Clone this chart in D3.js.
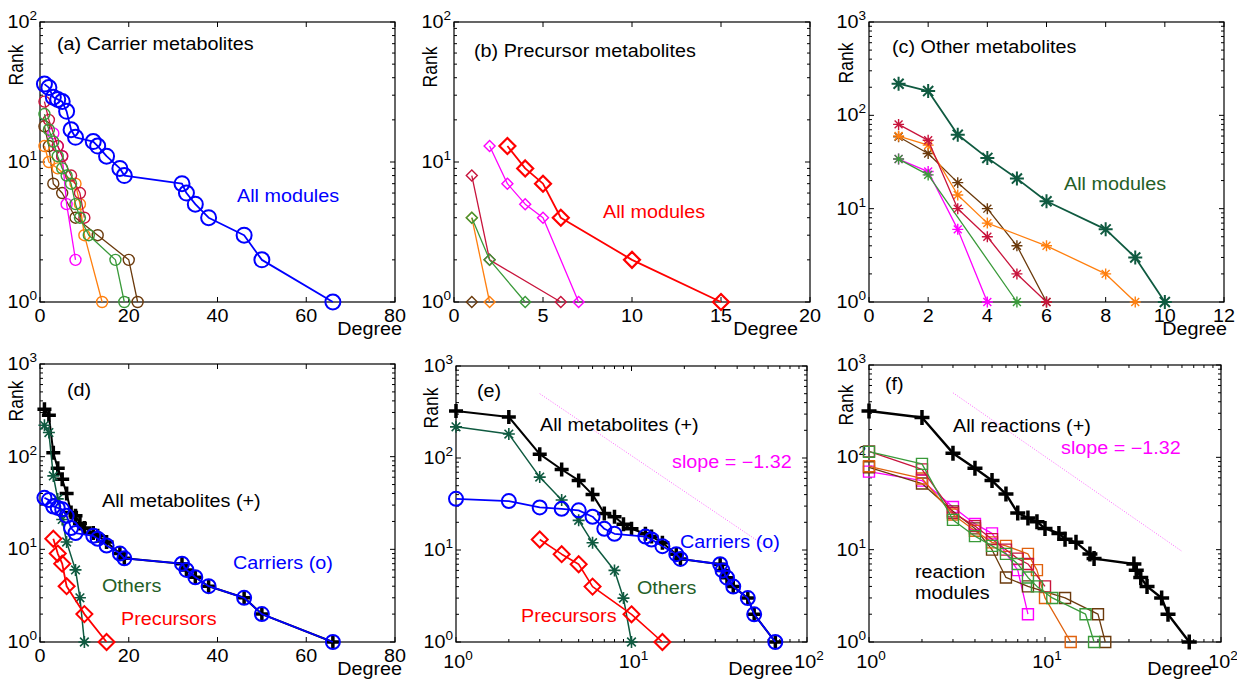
<!DOCTYPE html>
<html>
<head>
<meta charset="utf-8">
<script src="https://cdn.jsdelivr.net/npm/d3@7"></script>
<style>
body { margin: 0; background: #fff; }
svg { display: block; }
text { font-family: "Liberation Sans", Arial, Helvetica, sans-serif; }
</style>
</head>
<body>
<svg id="chart" width="1237" height="679"></svg>
<script>
// ---- data (degree, rank) ----
// (a) carrier metabolites
var carrierDeg  = [1,2,3,4,5,6,7,8,12,13,15,18,19,32,33,35,38,46,50,66];
var carrierRank = [36,34,29,28,27,23,17,15,14,13,11,9,8,7,6,5,4,3,2,1];
var aCrimsonDeg = [1,2,4,5,7,9,10],            aCrimsonRank = [27,20,13,11,8,6,4];
var aGreenDeg   = [1,2,3,4,5,6,7,8,9,11,17,19], aGreenRank   = [22,17,14,11,9,8,7,5,4,3,2,1];
var aBrownDeg   = [1,2,3,5,8,13,20,22],          aBrownRank   = [18,13,7,6,4,3,2,1];
var aOrangeDeg  = [1,2,4,8,9,10,14],             aOrangeRank  = [13,10,9,7,5,3,1];
var aMagentaDeg = [3,4,5,6,8],                   aMagentaRank = [16,13,11,5,2];

// (b) precursor metabolites
var precDeg  = [3,4,5,6,10,15];
var precRank = [13,9,7,4,2,1];
var bMagentaDeg = [2,3,4,5,7], bMagentaRank = [13,7,5,4,1];
var bCrimsonDeg = [1,2,6],     bCrimsonRank = [8,2,1];
var bGreenDeg   = [1,2,4],     bGreenRank   = [4,2,1];
var bOrangeDeg  = [1,2],       bOrangeRank  = [4,1];
var bBrownDeg   = [1],         bBrownRank   = [1];

// (c) other metabolites
var otherDeg  = [1,2,3,4,5,6,8,9,10];
var otherRank = [218,182,62,35,21,12,6,3,1];
var cCrimsonDeg = [1,2,3,4,5,6],   cCrimsonRank = [80,54,10,5,2,1];
var cOrangeDeg  = [1,2,3,4,6,8,9], cOrangeRank  = [60,48,14,7,4,2,1];
var cBrownDeg   = [1,2,3,4,5,6],   cBrownRank   = [59,39,19,10,4,1];
var cMagentaDeg = [1,2,3,4],       cMagentaRank = [34,25,6,1];
var cGreenDeg   = [1,2,5],         cGreenRank   = [34,23,1];

// (d),(e) all metabolites
var allMetDeg  = [1,2,3,4,5,6,7,8,9,10,12,13,15,18,19,32,33,35,38,46,50,66];
var allMetRank = [324,279,110,75,57,40,25,23,19,17,15,14,12,9,8,7,6,5,4,3,2,1];

// (f) all reactions and reaction modules
var allRxnDeg  = [1,2,3,4,5,6,7,8,9,10,12,13,15,18,19,32,33,35,38,46,50,66];
var allRxnRank = [318,270,111,76,56,40,25,22,20,17,15,13,12,9,8,7,6,5,4,3,2,1];
var fCrimsonDeg = [1,2,3,4,5,6,7,8,10],           fCrimsonRank = [116,74,25,18,13,10,8,7,4];
var fGreenDeg   = [1,2,3,4,5,6,7,8,9,11,17,19],   fGreenRank   = [115,85,21,14,11,9,7,5,4,3,2,1];
var fOrangeDeg  = [1,2,3,4,5,6,8,9,10,14],        fOrangeRank  = [80,59,24,16,12,11,9,6,3,1];
var fBrownDeg   = [1,2,3,4,5,6,8,13,20,22],       fBrownRank   = [78,52,26,17,10,5,4,3,2,1];
var fMagentaDeg = [1,2,3,4,5,7,8],                fMagentaRank = [70,56,29,19,15,6,2];

// reference slope line (-1.32)
var slopeDegE = [3,64], slopeRankE = [500,9.7];
var slopeDegF = [3,60], slopeRankF = [500,9.6];

// tick values
var ticks80 = [0,20,40,60,80];
var ticks20 = [0,5,10,15,20];
var ticks12 = [0,2,4,6,8,10,12];

var COL = {
  blue: '#0000ff', red: '#ff0000', others: '#0f5a40', othersText: '#245e26',
  crimson: '#c8143c', green: '#3a9a3a', brown: '#6b3a0c', magenta: '#ff00ff',
  orange: '#ff7f0e', orangeDark: '#e0620e', black: '#000000'
};

var SX = 1.13;   // figure text looks horizontally stretched
var FS = 17.5;

var svg = d3.select('#chart');

function zip(a, b) { return a.map(function(v, i) { return [v, b[i]]; }); }

function txt(g, x, y, str, color, anchor, size) {
  return g.append('text')
    .attr('transform', 'translate(' + x + ',' + y + ') scale(' + SX + ',1)')
    .attr('font-size', size || FS)
    .attr('fill', color || '#000')
    .attr('text-anchor', anchor || 'start')
    .text(str);
}

function powLabel(g, x, y, exp, anchor) {
  var t = g.append('text')
    .attr('transform', 'translate(' + x + ',' + y + ') scale(' + SX + ',1)')
    .attr('font-size', FS)
    .attr('text-anchor', anchor);
  t.append('tspan').text('10');
  t.append('tspan').attr('font-size', 12).attr('dy', -8).text(exp);
}

function marker(g, type, cx, cy, s, color, w) {
  var k = s * 0.72;
  if (type === 'o') {
    g.append('circle').attr('cx', cx).attr('cy', cy).attr('r', s)
      .attr('fill', 'none').attr('stroke', color).attr('stroke-width', w);
    return;
  }
  var p;
  if (type === 'd') p = 'M' + cx + ',' + (cy - s) + 'L' + (cx + s) + ',' + cy + 'L' + cx + ',' + (cy + s) + 'L' + (cx - s) + ',' + cy + 'Z';
  if (type === 's') p = 'M' + (cx - s) + ',' + (cy - s) + 'H' + (cx + s) + 'V' + (cy + s) + 'H' + (cx - s) + 'Z';
  if (type === '+') p = 'M' + (cx - s) + ',' + cy + 'H' + (cx + s) + 'M' + cx + ',' + (cy - s) + 'V' + (cy + s);
  if (type === '*') p = 'M' + (cx - s) + ',' + cy + 'H' + (cx + s) + 'M' + cx + ',' + (cy - s) + 'V' + (cy + s) +
    'M' + (cx - k) + ',' + (cy - k) + 'L' + (cx + k) + ',' + (cy + k) + 'M' + (cx - k) + ',' + (cy + k) + 'L' + (cx + k) + ',' + (cy - k);
  g.append('path').attr('d', p).attr('fill', 'none').attr('stroke', color).attr('stroke-width', w);
}

function series(P, degs, ranks, color, type, size, lw, mw) {
  var pts = zip(degs, ranks);
  var line = d3.line().x(function(d) { return P.x(d[0]); }).y(function(d) { return P.y(d[1]); });
  P.g.append('path').datum(pts).attr('d', line)
    .attr('fill', 'none').attr('stroke', color).attr('stroke-width', lw).attr('stroke-linejoin', 'round');
  pts.forEach(function(d) { marker(P.g, type, P.x(d[0]), P.y(d[1]), size, color, mw); });
}

function makePanel(o) {
  var g = svg.append('g');
  var x = o.xlog ? d3.scaleLog().domain(o.xdom).range([o.x0, o.x1])
                 : d3.scaleLinear().domain(o.xdom).range([o.x0, o.x1]);
  var y = d3.scaleLog().domain(o.ydom).range([o.y1, o.y0]);
  var ax = g.append('g').attr('stroke', '#000').attr('stroke-width', 1);
  var MAJ = 5, MIN = 3;

  // y ticks (log) on both sides
  var e0 = Math.round(Math.log10(o.ydom[0])), e1 = Math.round(Math.log10(o.ydom[1]));
  for (var e = e0; e <= e1; e++) {
    var v = Math.pow(10, e), yy = y(v);
    ax.append('line').attr('x1', o.x0).attr('x2', o.x0 + MAJ).attr('y1', yy).attr('y2', yy);
    ax.append('line').attr('x1', o.x1).attr('x2', o.x1 - MAJ).attr('y1', yy).attr('y2', yy);
    powLabel(g, o.x0 - 3, yy + 6, String(e), 'end');
    if (e < e1) {
      for (var m = 2; m <= 9; m++) {
        var ym = y(m * v);
        ax.append('line').attr('x1', o.x0).attr('x2', o.x0 + MIN).attr('y1', ym).attr('y2', ym);
        ax.append('line').attr('x1', o.x1).attr('x2', o.x1 - MIN).attr('y1', ym).attr('y2', ym);
      }
    }
  }
  // x ticks
  if (o.xlog) {
    var f0 = Math.round(Math.log10(o.xdom[0])), f1 = Math.round(Math.log10(o.xdom[1]));
    for (var f = f0; f <= f1; f++) {
      var xv = Math.pow(10, f), xx = x(xv);
      ax.append('line').attr('x1', xx).attr('x2', xx).attr('y1', o.y1).attr('y2', o.y1 - MAJ);
      ax.append('line').attr('x1', xx).attr('x2', xx).attr('y1', o.y0).attr('y2', o.y0 + MAJ);
      powLabel(g, xx + 2, o.y1 + 26, String(f), 'middle');
      if (f < f1) {
        for (var n = 2; n <= 9; n++) {
          var xm = x(n * xv);
          ax.append('line').attr('x1', xm).attr('x2', xm).attr('y1', o.y1).attr('y2', o.y1 - MIN);
          ax.append('line').attr('x1', xm).attr('x2', xm).attr('y1', o.y0).attr('y2', o.y0 + MIN);
        }
      }
    }
  } else {
    o.xticks.forEach(function(t) {
      var xx = x(t);
      ax.append('line').attr('x1', xx).attr('x2', xx).attr('y1', o.y1).attr('y2', o.y1 - MAJ);
      ax.append('line').attr('x1', xx).attr('x2', xx).attr('y1', o.y0).attr('y2', o.y0 + MAJ);
      txt(g, xx, o.y1 + 20, String(t), '#000', 'middle');
    });
  }
  g.append('rect').attr('x', o.x0).attr('y', o.y0).attr('width', o.x1 - o.x0).attr('height', o.y1 - o.y0)
    .attr('fill', 'none').attr('stroke', '#000').attr('stroke-width', 1.2);

  // axis labels
  txt(g, o.degX, o.y1 + 33, 'Degree', '#000', 'end');
  g.append('text')
    .attr('transform', 'translate(' + o.rankX + ',' + o.rankY + ') rotate(-90) scale(1,' + SX + ')')
    .attr('font-size', FS).attr('text-anchor', 'middle').text('Rank');

  var plot = g.append('g');
  return { g: plot, lab: g, x: x, y: y };
}

// ---------------- (a) ----------------
var A = makePanel({ x0: 40, x1: 395, y0: 22, y1: 302, xdom: [0, 80], xticks: ticks80, ydom: [1, 100],
                    degX: 402, rankX: 23, rankY: 65 });
series(A, aBrownDeg, aBrownRank, COL.brown, 'o', 5.5, 1.3, 1.4);
series(A, aOrangeDeg, aOrangeRank, COL.orange, 'o', 5.5, 1.3, 1.4);
series(A, aMagentaDeg, aMagentaRank, COL.magenta, 'o', 5.5, 1.3, 1.4);
series(A, aCrimsonDeg, aCrimsonRank, COL.crimson, 'o', 5.5, 1.3, 1.4);
series(A, aGreenDeg, aGreenRank, COL.green, 'o', 5.5, 1.3, 1.4);
series(A, carrierDeg, carrierRank, COL.blue, 'o', 7.5, 1.8, 2);
txt(A.lab, 57, 50, '(a) Carrier metabolites');
txt(A.lab, 237, 202, 'All modules', COL.blue);

// ---------------- (b) ----------------
var B = makePanel({ x0: 454, x1: 810, y0: 22, y1: 302, xdom: [0, 20], xticks: ticks20, ydom: [1, 100],
                    degX: 798, rankX: 437, rankY: 67 });
series(B, bCrimsonDeg, bCrimsonRank, COL.crimson, 'd', 5.5, 1.3, 1.4);
series(B, bOrangeDeg, bOrangeRank, COL.orange, 'd', 5.5, 1.3, 1.4);
series(B, bGreenDeg, bGreenRank, COL.green, 'd', 5.5, 1.3, 1.4);
series(B, bBrownDeg, bBrownRank, COL.brown, 'd', 5.5, 1.3, 1.4);
series(B, bMagentaDeg, bMagentaRank, COL.magenta, 'd', 5.5, 1.3, 1.4);
series(B, precDeg, precRank, COL.red, 'd', 8, 1.8, 2.2);
txt(B.lab, 474, 57, '(b) Precursor metabolites');
txt(B.lab, 603, 218, 'All modules', COL.red);

// ---------------- (c) ----------------
var Cp = makePanel({ x0: 869, x1: 1224, y0: 22, y1: 302, xdom: [0, 12], xticks: ticks12, ydom: [1, 1000],
                     degX: 1227, rankX: 853, rankY: 63 });
series(Cp, cMagentaDeg, cMagentaRank, COL.magenta, '*', 5.5, 1.3, 1.4);
series(Cp, cGreenDeg, cGreenRank, COL.green, '*', 5.5, 1.3, 1.4);
series(Cp, cBrownDeg, cBrownRank, COL.brown, '*', 5.5, 1.3, 1.4);
series(Cp, cOrangeDeg, cOrangeRank, COL.orange, '*', 5.5, 1.3, 1.4);
series(Cp, cCrimsonDeg, cCrimsonRank, COL.crimson, '*', 5.5, 1.3, 1.4);
series(Cp, otherDeg, otherRank, COL.others, '*', 7, 1.8, 2);
txt(Cp.lab, 892, 53, '(c) Other metabolites');
txt(Cp.lab, 1064, 190, 'All modules', COL.othersText);

// ---------------- (d) ----------------
var D = makePanel({ x0: 40, x1: 395, y0: 364, y1: 642, xdom: [0, 80], xticks: ticks80, ydom: [1, 1000],
                    degX: 402, rankX: 23, rankY: 401 });
series(D, allMetDeg, allMetRank, COL.black, '+', 7, 2, 3.5);
series(D, otherDeg, otherRank, COL.others, '*', 6, 1.5, 1.6);
series(D, precDeg, precRank, COL.red, 'd', 8, 1.8, 2);
series(D, carrierDeg, carrierRank, COL.blue, 'o', 7, 1.8, 2);
txt(D.lab, 67, 396, '(d)');
txt(D.lab, 102, 507, 'All metabolites (+)');
txt(D.lab, 233, 569, 'Carriers (o)', COL.blue);
txt(D.lab, 102, 592, 'Others', COL.othersText);
txt(D.lab, 121, 625, 'Precursors', COL.red);

// ---------------- (e) ----------------
var E = makePanel({ x0: 456, x1: 807, y0: 366, y1: 642, xlog: true, xdom: [1, 100], ydom: [1, 1000],
                    degX: 793, rankX: 438, rankY: 408 });
E.g.append('path').datum(zip(slopeDegE, slopeRankE))
  .attr('d', d3.line().x(function(d) { return E.x(d[0]); }).y(function(d) { return E.y(d[1]); }))
  .attr('stroke', COL.magenta).attr('stroke-width', 0.8).attr('stroke-dasharray', '1,1.6').attr('opacity', 0.75);
series(E, allMetDeg, allMetRank, COL.black, '+', 7, 2, 3.5);
series(E, otherDeg, otherRank, COL.others, '*', 6, 1.5, 1.6);
series(E, precDeg, precRank, COL.red, 'd', 8, 1.6, 2);
series(E, carrierDeg, carrierRank, COL.blue, 'o', 7, 1.8, 2);
txt(E.lab, 477, 397, '(e)');
txt(E.lab, 540, 431, 'All metabolites (+)');
txt(E.lab, 672, 468, 'slope = \u22121.32', COL.magenta);
txt(E.lab, 680, 548, 'Carriers (o)', COL.blue);
txt(E.lab, 637, 594, 'Others', COL.othersText);
txt(E.lab, 521, 622, 'Precursors', COL.red);

// ---------------- (f) ----------------
var F = makePanel({ x0: 869, x1: 1221, y0: 365, y1: 642, xlog: true, xdom: [1, 100], ydom: [1, 1000],
                    degX: 1212, rankX: 853, rankY: 405 });
F.g.append('path').datum(zip(slopeDegF, slopeRankF))
  .attr('d', d3.line().x(function(d) { return F.x(d[0]); }).y(function(d) { return F.y(d[1]); }))
  .attr('stroke', COL.magenta).attr('stroke-width', 0.8).attr('stroke-dasharray', '1,1.6').attr('opacity', 0.75);
series(F, allRxnDeg, allRxnRank, COL.black, '+', 7.5, 2.4, 3.5);
series(F, fMagentaDeg, fMagentaRank, COL.magenta, 's', 5.5, 1.3, 1.4);
series(F, fBrownDeg, fBrownRank, COL.brown, 's', 5.5, 1.3, 1.4);
series(F, fOrangeDeg, fOrangeRank, COL.orangeDark, 's', 5.5, 1.3, 1.4);
series(F, fCrimsonDeg, fCrimsonRank, COL.crimson, 's', 5.5, 1.3, 1.4);
series(F, fGreenDeg, fGreenRank, COL.green, 's', 5.5, 1.3, 1.4);
txt(F.lab, 885, 390, '(f)');
txt(F.lab, 953, 432, 'All reactions (+)');
txt(F.lab, 1061, 454, 'slope = \u22121.32', COL.magenta);
txt(F.lab, 915, 578, 'reaction');
txt(F.lab, 915, 599, 'modules');
</script>
</body>
</html>
